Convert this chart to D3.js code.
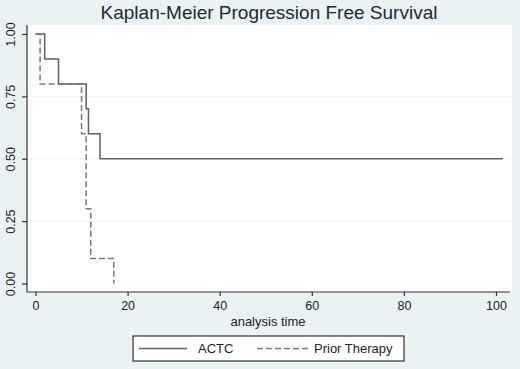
<!DOCTYPE html>
<html>
<head>
<meta charset="utf-8">
<script src="https://cdn.jsdelivr.net/npm/d3@7"></script>
<style>
  body { margin: 0; background: #eaf2f3; }
  svg { display: block; font-family: "Liberation Sans", Arial, sans-serif; }
</style>
</head>
<body>
<script>
// Kaplan-Meier step data
const actcTime = [0, 2, 5, 11, 11.5, 14, 101.5]
const actcSurv = [1, 0.9, 0.8, 0.7, 0.6, 0.5, 0.5]
const priorTime = [0, 1, 10, 11, 12, 17]
const priorSurv = [1, 0.8, 0.6, 0.3, 0.1, 0]

const xTicks = [0, 20, 40, 60, 80, 100]
const yTicks = [0, 0.25, 0.5, 0.75, 1]
const seriesNames = ['ACTC', 'Prior Therapy']

const W = 520, H = 369
const plot = {left: 27, right: 512, top: 25, bottom: 292}

const svg = d3.select('body').append('svg')
    .attr('width', W)
    .attr('height', H)
    .style('background-color', '#eaf2f3')

const x = d3.scaleLinear().domain([0, 100]).range([35.5, 496])
const y = d3.scaleLinear().domain([0, 1]).range([283.5, 34])

// plot region
svg.append('rect')
    .attr('x', plot.left).attr('y', plot.top)
    .attr('width', plot.right - plot.left)
    .attr('height', plot.bottom - plot.top)
    .attr('fill', '#ffffff')

// faint grid
svg.append('g').selectAll('line')
    .data(yTicks.filter(d => d > 0 && d < 1))
    .join('line')
    .attr('x1', plot.left).attr('x2', plot.right)
    .attr('y1', d => y(d)).attr('y2', d => y(d))
    .attr('stroke', '#eef3f3')
    .attr('stroke-width', 1)

// title
svg.append('text')
    .attr('x', 269).attr('y', 19)
    .attr('text-anchor', 'middle')
    .attr('font-size', 19)
    .attr('fill', '#1f2a33')
    .text('Kaplan-Meier Progression Free Survival')

// y axis
const yAxis = svg.append('g')
    .attr('transform', `translate(${plot.left},0)`)
    .call(d3.axisLeft(y).tickValues(yTicks).tickFormat(d3.format('.2f')).tickSize(5).tickSizeOuter(0))
yAxis.select('.domain').remove()
yAxis.append('line')
    .attr('x1', 0).attr('x2', 0)
    .attr('y1', plot.top).attr('y2', plot.bottom)
    .attr('stroke', '#333').attr('stroke-width', 1.2)
yAxis.selectAll('.tick line').attr('stroke', '#333').attr('stroke-width', 1.2)
yAxis.selectAll('.tick text')
    .attr('font-size', 12.5)
    .attr('fill', '#222')
    .attr('text-anchor', 'middle')
    .attr('transform', 'rotate(-90)')
    .attr('x', 0).attr('y', -12.5)
    .attr('dy', 0)

// x axis
const xAxis = svg.append('g')
    .attr('transform', `translate(0,${plot.bottom})`)
    .call(d3.axisBottom(x).tickValues(xTicks).tickFormat(d3.format('d')).tickSize(4).tickSizeOuter(0))
xAxis.select('.domain').remove()
xAxis.append('line')
    .attr('x1', plot.left).attr('x2', plot.right - 2)
    .attr('y1', 0).attr('y2', 0)
    .attr('stroke', '#333').attr('stroke-width', 1.2)
xAxis.selectAll('.tick line').attr('stroke', '#333').attr('stroke-width', 1.2)
xAxis.selectAll('.tick text')
    .attr('font-size', 12.5)
    .attr('fill', '#222')
    .attr('y', 9)

svg.append('text')
    .attr('x', 268).attr('y', 326)
    .attr('text-anchor', 'middle')
    .attr('font-size', 13)
    .attr('fill', '#222')
    .text('analysis time')

// survival curves
const line = d3.line()
    .x(d => x(d[0]))
    .y(d => y(d[1]))
    .curve(d3.curveStepAfter)

svg.append('path')
    .datum(d3.zip(actcTime, actcSurv))
    .attr('d', line)
    .attr('fill', 'none')
    .attr('stroke', '#55616c')
    .attr('stroke-width', 1.5)

svg.append('path')
    .datum(d3.zip(priorTime, priorSurv))
    .attr('d', line)
    .attr('fill', 'none')
    .attr('stroke', '#8c716c')
    .attr('stroke-width', 1.5)
    .attr('stroke-dasharray', '6,3')

// legend
const lg = svg.append('g')
lg.append('rect')
    .attr('x', 133).attr('y', 336)
    .attr('width', 271).attr('height', 25)
    .attr('fill', '#ffffff')
    .attr('stroke', '#333')
    .attr('stroke-width', 1.2)
lg.append('line')
    .attr('x1', 139).attr('x2', 187).attr('y1', 348.5).attr('y2', 348.5)
    .attr('stroke', '#55616c').attr('stroke-width', 1.5)
lg.append('text')
    .attr('x', 198).attr('y', 353)
    .attr('font-size', 13).attr('fill', '#222')
    .text(seriesNames[0])
lg.append('line')
    .attr('x1', 257).attr('x2', 308).attr('y1', 348.5).attr('y2', 348.5)
    .attr('stroke', '#8c716c').attr('stroke-width', 1.5)
    .attr('stroke-dasharray', '6,3')
lg.append('text')
    .attr('x', 314).attr('y', 353)
    .attr('font-size', 13).attr('fill', '#222')
    .text(seriesNames[1])
</script>
</body>
</html>
